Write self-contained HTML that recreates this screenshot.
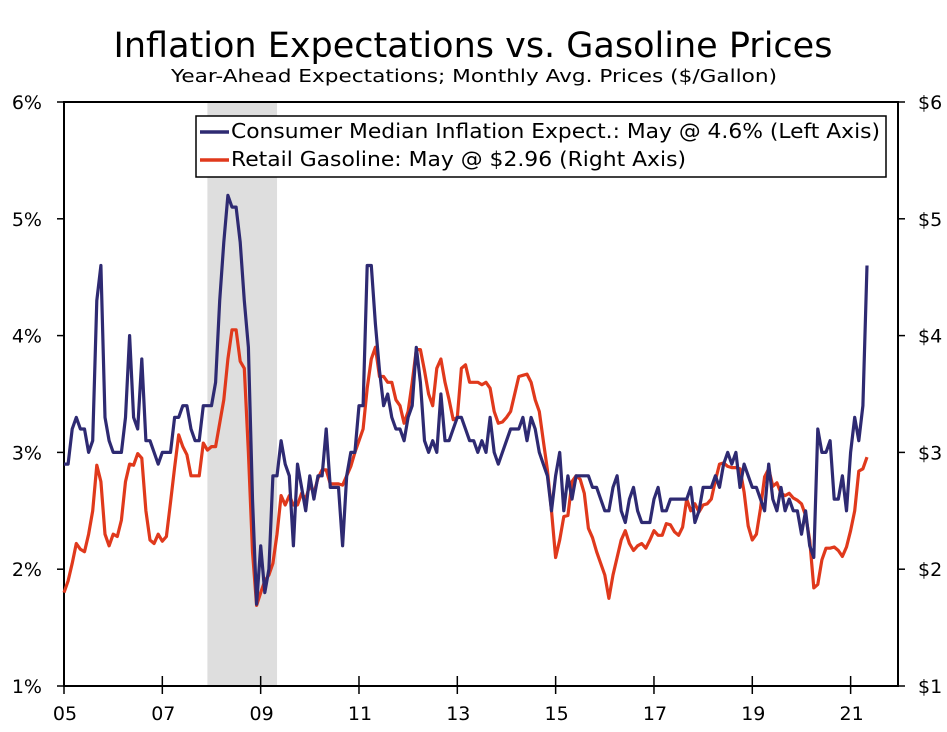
<!DOCTYPE html>
<html><head><meta charset="utf-8"><style>
body{margin:0;background:#fff;}
svg text{font-family:"DejaVu Sans","Liberation Sans",sans-serif;}
</style></head><body>
<svg id="chart" width="947" height="727" xmlns="http://www.w3.org/2000/svg">
<text x="473" y="57" font-size="35" text-anchor="middle" fill="#000">Inflation Expectations vs. Gasoline Prices</text>
<text x="474" y="82" font-size="18" text-anchor="middle" fill="#000" textLength="606" lengthAdjust="spacingAndGlyphs">Year-Ahead Expectations; Monthly Avg. Prices ($/Gallon)</text>
<g id="plot"></g>
</svg>
<script>
const startYear = 2005;
const xTickLabels = ["05","07","09","11","13","15","17","19","21"];
const leftTickLabels = ["1%","2%","3%","4%","5%","6%"];
const rightTickLabels = ["$1","$2","$3","$4","$5","$6"];
const recession = [35, 52];
const expectations = [
2.9,2.9,3.2,3.3,3.2,3.2,3.0,3.1,4.3,4.6,3.3,3.1,
3.0,3.0,3.0,3.3,4.0,3.3,3.2,3.8,3.1,3.1,3.0,2.9,
3.0,3.0,3.0,3.3,3.3,3.4,3.4,3.2,3.1,3.1,3.4,3.4,
3.4,3.6,4.3,4.8,5.2,5.1,5.1,4.8,4.3,3.9,2.6,1.7,
2.2,1.8,2.0,2.8,2.8,3.1,2.9,2.8,2.2,2.9,2.7,2.5,
2.8,2.6,2.8,2.8,3.2,2.7,2.7,2.7,2.2,2.8,3.0,3.0,
3.4,3.4,4.6,4.6,4.1,3.7,3.4,3.5,3.3,3.2,3.2,3.1,
3.3,3.4,3.9,3.6,3.1,3.0,3.1,3.0,3.5,3.1,3.1,3.2,
3.3,3.3,3.2,3.1,3.1,3.0,3.1,3.0,3.3,3.0,2.9,3.0,
3.1,3.2,3.2,3.2,3.3,3.1,3.3,3.2,3.0,2.9,2.8,2.5,
2.8,3.0,2.5,2.8,2.6,2.8,2.8,2.8,2.8,2.7,2.7,2.6,
2.5,2.5,2.7,2.8,2.5,2.4,2.6,2.7,2.5,2.4,2.4,2.4,
2.6,2.7,2.5,2.5,2.6,2.6,2.6,2.6,2.6,2.7,2.4,2.5,
2.7,2.7,2.7,2.8,2.7,2.9,3.0,2.9,3.0,2.7,2.9,2.8,
2.7,2.7,2.6,2.5,2.9,2.6,2.5,2.7,2.5,2.6,2.5,2.5,
2.3,2.5,2.2,2.1,3.2,3.0,3.0,3.1,2.6,2.6,2.8,2.5,
3.0,3.3,3.1,3.4,4.6];
const gasoline = [
1.8,1.9,2.05,2.22,2.17,2.15,2.3,2.5,2.89,2.75,2.3,2.2,
2.3,2.28,2.42,2.75,2.9,2.89,2.99,2.95,2.5,2.25,2.22,2.3,
2.24,2.28,2.57,2.87,3.15,3.05,2.98,2.8,2.8,2.8,3.08,3.02,
3.05,3.05,3.25,3.45,3.8,4.05,4.05,3.78,3.72,3.0,2.15,1.69,
1.8,1.9,1.95,2.05,2.3,2.63,2.55,2.63,2.55,2.55,2.65,2.6,
2.72,2.65,2.78,2.85,2.85,2.73,2.73,2.73,2.72,2.8,2.88,3.0,
3.1,3.2,3.55,3.8,3.9,3.65,3.65,3.6,3.6,3.45,3.4,3.25,
3.35,3.6,3.88,3.88,3.7,3.5,3.4,3.72,3.8,3.6,3.45,3.28,
3.3,3.72,3.75,3.6,3.6,3.6,3.58,3.6,3.55,3.35,3.25,3.26,
3.3,3.35,3.5,3.65,3.66,3.67,3.6,3.45,3.35,3.1,2.85,2.5,
2.1,2.25,2.45,2.46,2.75,2.8,2.77,2.65,2.35,2.27,2.15,2.05,
1.95,1.75,1.95,2.1,2.25,2.33,2.22,2.16,2.2,2.22,2.18,2.25,
2.33,2.29,2.29,2.39,2.38,2.32,2.29,2.36,2.6,2.5,2.56,2.49,
2.55,2.56,2.6,2.76,2.9,2.91,2.88,2.87,2.87,2.86,2.66,2.37,
2.25,2.3,2.52,2.79,2.86,2.71,2.74,2.65,2.63,2.65,2.61,2.59,
2.56,2.46,2.25,1.84,1.87,2.08,2.18,2.18,2.19,2.16,2.11,2.19,
2.33,2.5,2.84,2.86,2.96];

const NS="http://www.w3.org/2000/svg";
const g=document.getElementById('plot');
const L=64,R=898,T=102,B=686,monthW=4.097;
const x=m=>L+m*monthW;
const y=v=>B-(v-1)/5*(B-T);
function mk(tag,attrs){const e=document.createElementNS(NS,tag);for(const k in attrs)e.setAttribute(k,attrs[k]);g.appendChild(e);return e;}

const rec=mk('rect',{x:x(recession[0]),y:T,width:x(recession[1])-x(recession[0]),height:B-T,fill:'#dedede'});



leftTickLabels.forEach((t,i)=>{
  const v=i+1;
  const tk=mk('line',{x1:L-7,x2:L,y1:y(v),y2:y(v),stroke:'#000','stroke-width':1.5});
  
  
  const lb=mk('text',{x:42,y:y(v)+7,'font-size':19,'text-anchor':'end',fill:'#000'});
  lb.textContent=t;
  
  
  const rt=mk('line',{x1:R,x2:R+7,y1:y(v),y2:y(v),stroke:'#000','stroke-width':1.5});
  
  
  const rl=mk('text',{x:918,y:y(v)+7,'font-size':19,'text-anchor':'start',fill:'#000'});
  rl.textContent=rightTickLabels[i];
  
  
});
xTickLabels.forEach((t,i)=>{
  const m=i*24;
  const tk=mk('line',{x1:x(m),x2:x(m),y1:B-10,y2:B+8,stroke:'#000','stroke-width':1.5});
  
  
  const lb=mk('text',{x:x(m)+1,y:B+34,'font-size':19,'text-anchor':'middle',fill:'#000'});
  lb.textContent=t;
  
  
});
const ax=mk('rect',{x:L,y:T,width:R-L,height:B-T,fill:'none',stroke:'#000','stroke-width':2});



function line(arr,color,name){
  const d=arr.map((v,i)=>(i?'L':'M')+x(i).toFixed(1)+','+y(v).toFixed(1)).join(' ');
  const p=mk('path',{d:d,fill:'none',stroke:color,'stroke-width':3.2,'stroke-linejoin':'round'});
  
  
}
line(gasoline,'#e0391c','gasoline-line');
line(expectations,'#2e2a72','expectations-line');

const lg=mk('rect',{x:196,y:116,width:690,height:61,fill:'#fff',stroke:'#000','stroke-width':1.5});


[['#2e2a72','Consumer Median Inflation Expect.: May @ 4.6% (Left Axis)',138,649],['#e0391c','Retail Gasoline: May @ $2.96 (Right Axis)',166,455]].forEach(([c,t,yy,len])=>{
  const s=mk('line',{x1:200,x2:229,y1:yy-6,y2:yy-6,stroke:c,'stroke-width':3.5});
  
  
  const tx=mk('text',{x:231,y:yy,'font-size':20,fill:'#000',textLength:len,lengthAdjust:'spacingAndGlyphs'});
  tx.textContent=t;
  
  
});
</script>
</body></html>
